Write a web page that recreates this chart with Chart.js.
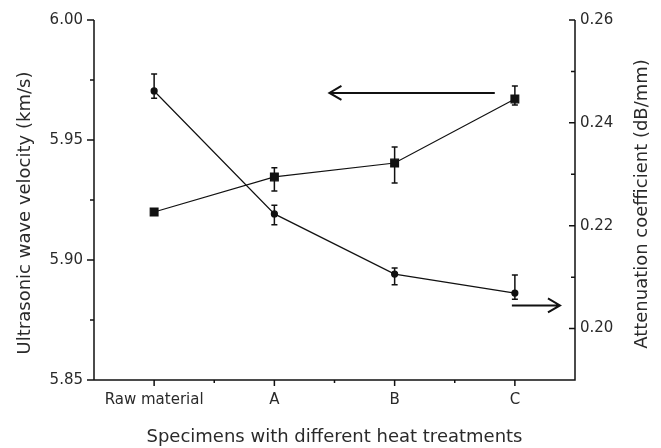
<!DOCTYPE html>
<html>
<head>
<meta charset="utf-8">
<script src="https://cdn.jsdelivr.net/npm/chart.js@4"></script>
<style>
  body { margin: 0; background: #fff; }
  canvas { display: block; }
</style>
</head>
<body>
<canvas id="chart" width="661" height="448"></canvas>
<script>
// specimens on the x axis
const specimens = ['Raw material', 'A', 'B', 'C'];

// ultrasonic wave velocity (km/s), left axis
const velocity = [5.920, 5.9346, 5.9404, 5.9671];
const velocityErrUp = [0, 0.0038, 0.0067, 0.0054];
const velocityErrDown = [0, 0.0058, 0.0083, 0.0025];

// attenuation coefficient (dB/mm), right axis
const attenuation = [0.2462, 0.2223, 0.2106, 0.2069];
const attenuationErrUp = [0.0033, 0.0017, 0.0012, 0.0035];
const attenuationErrDown = [0.0014, 0.0021, 0.0021, 0.0012];

// tick values
const velocityMajor = [5.85, 5.90, 5.95, 6.00];
const velocityMinor = [5.875, 5.925, 5.975];
const attenuationMajor = [0.20, 0.22, 0.24, 0.26];
const attenuationMinor = [0.19, 0.21, 0.23, 0.25];

// arrows pointing to the axis each curve belongs to (x as category index)
const velocityArrowX = [2.833, 1.458];
const velocityArrowY = 5.9696;
const attenuationArrowX = [2.975, 3.375];
const attenuationArrowY = 0.2045;

const leftTitle = 'Ultrasonic wave velocity (km/s)';
const rightTitle = 'Attenuation coefficient (dB/mm)';

const ink = '#111';
const textColor = '#2a2a2a';
Chart.defaults.font.family = 'DejaVu Sans';
Chart.defaults.color = textColor;

function errorBars(ctx, xs, ys, vals, up, down) {
  ctx.beginPath();
  vals.forEach((v, i) => {
    if (!up[i] && !down[i]) return;
    const x = xs.getPixelForValue(i);
    const y1 = ys.getPixelForValue(v + up[i]);
    const y2 = ys.getPixelForValue(v - down[i]);
    ctx.moveTo(x, y1); ctx.lineTo(x, y2);
    ctx.moveTo(x - 3, y1); ctx.lineTo(x + 3, y1);
    ctx.moveTo(x - 3, y2); ctx.lineTo(x + 3, y2);
  });
  ctx.stroke();
}

function arrow(ctx, x1, x2, y) {
  const dir = Math.sign(x2 - x1);
  ctx.beginPath();
  ctx.moveTo(x1, y); ctx.lineTo(x2, y);
  ctx.moveTo(x2 - dir * 12, y - 7); ctx.lineTo(x2, y); ctx.lineTo(x2 - dir * 12, y + 7);
  ctx.stroke();
}

function sideTitle(ctx, text, x, y) {
  ctx.save();
  ctx.translate(x, y);
  ctx.rotate(-Math.PI / 2);
  ctx.font = '18px "DejaVu Sans"';
  ctx.fillStyle = textColor;
  ctx.textAlign = 'center';
  ctx.textBaseline = 'middle';
  ctx.fillText(text, 0, 0);
  ctx.restore();
}

const decorations = {
  id: 'decorations',
  beforeDatasetsDraw(chart) {
    const { ctx, scales } = chart;
    ctx.save();
    ctx.strokeStyle = ink;
    ctx.lineWidth = 1.5;
    errorBars(ctx, scales.x, scales.y, velocity, velocityErrUp, velocityErrDown);
    errorBars(ctx, scales.x, scales.y1, attenuation, attenuationErrUp, attenuationErrDown);
    ctx.restore();
  },
  afterDatasetsDraw(chart) {
    const { ctx, chartArea: a, scales } = chart;
    ctx.save();
    ctx.strokeStyle = ink;
    ctx.lineWidth = 1.5;
    ctx.beginPath();
    ctx.moveTo(a.left, a.top); ctx.lineTo(a.left, a.bottom); ctx.lineTo(a.right, a.bottom); ctx.lineTo(a.right, a.top);
    // left ticks, outward
    velocityMajor.forEach(v => { const y = scales.y.getPixelForValue(v); ctx.moveTo(a.left - 7, y); ctx.lineTo(a.left, y); });
    velocityMinor.forEach(v => { const y = scales.y.getPixelForValue(v); ctx.moveTo(a.left - 4, y); ctx.lineTo(a.left, y); });
    // right ticks, inward
    attenuationMajor.forEach(v => { const y = scales.y1.getPixelForValue(v); ctx.moveTo(a.right - 6, y); ctx.lineTo(a.right, y); });
    attenuationMinor.forEach(v => { const y = scales.y1.getPixelForValue(v); ctx.moveTo(a.right - 4, y); ctx.lineTo(a.right, y); });
    // bottom ticks
    specimens.forEach((s, i) => {
      const x = scales.x.getPixelForValue(i);
      ctx.moveTo(x, a.bottom); ctx.lineTo(x, a.bottom + 6);
      if (i > 0) {
        const xb = scales.x.getPixelForValue(i - 0.5);
        ctx.moveTo(xb, a.bottom); ctx.lineTo(xb, a.bottom + 3);
      }
    });
    ctx.stroke();

    ctx.lineWidth = 2;
    arrow(ctx, scales.x.getPixelForValue(velocityArrowX[0]), scales.x.getPixelForValue(velocityArrowX[1]), scales.y.getPixelForValue(velocityArrowY));
    arrow(ctx, scales.x.getPixelForValue(attenuationArrowX[0]), scales.x.getPixelForValue(attenuationArrowX[1]), scales.y1.getPixelForValue(attenuationArrowY));
    ctx.restore();
  },
  afterDraw(chart) {
    const { ctx, chartArea: a } = chart;
    const mid = (a.top + a.bottom) / 2;
    sideTitle(ctx, leftTitle, 25, mid + 13);
    sideTitle(ctx, rightTitle, 642, mid + 4);
  }
};

new Chart(document.getElementById('chart'), {
  type: 'line',
  data: {
    labels: specimens,
    datasets: [
      {
        data: velocity,
        yAxisID: 'y',
        borderColor: ink,
        borderWidth: 1.2,
        backgroundColor: ink,
        pointStyle: 'rect',
        pointRadius: 5.5,
        tension: 0,
      },
      {
        data: attenuation,
        yAxisID: 'y1',
        borderColor: ink,
        borderWidth: 1.2,
        backgroundColor: ink,
        pointStyle: 'circle',
        pointRadius: 3,
        tension: 0,
      },
    ],
  },
  options: {
    responsive: false,
    animation: false,
    layout: { padding: { top: 20, left: 0, right: 0, bottom: 0 } },
    plugins: {
      legend: { display: false },
      tooltip: { enabled: false },
    },
    scales: {
      x: {
        offset: true,
        grid: { display: false, drawTicks: false },
        border: { display: false },
        ticks: { padding: 11, font: { size: 15 } },
        title: {
          display: true,
          text: 'Specimens with different heat treatments',
          font: { size: 18 },
          padding: { top: 0, bottom: 0 },
        },
        afterFit(scale) { scale.height = 68; },
      },
      y: {
        position: 'left',
        min: 5.85,
        max: 6.00,
        grid: { display: false, drawTicks: false },
        border: { display: false },
        ticks: { stepSize: 0.05, padding: 11, font: { size: 15 }, callback: v => v.toFixed(2) },
        afterFit(scale) { scale.width = 94; },
      },
      y1: {
        position: 'right',
        min: 0.19,
        max: 0.26,
        grid: { display: false, drawTicks: false },
        border: { display: false },
        ticks: { stepSize: 0.02, includeBounds: false, padding: 5, font: { size: 15 }, callback: v => v.toFixed(2) },
        afterFit(scale) { scale.width = 86; },
      },
    },
  },
  plugins: [decorations],
});
</script>
</body>
</html>
